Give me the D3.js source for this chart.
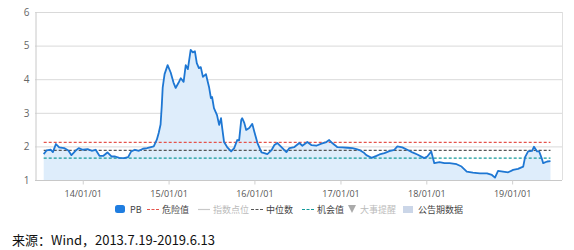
<!DOCTYPE html>
<html>
<head>
<meta charset="utf-8">
<script src="https://cdn.jsdelivr.net/npm/d3@7"></script>
<style>
body { margin:0; background:#fff; }
svg text { font-family:"Open Sans","Noto Sans CJK SC",sans-serif; }
</style>
</head>
<body>
<div id="chart"></div>
<script>
// PB series
var dates = ["2013-07-19","2013-07-31","2013-08-18","2013-08-27","2013-09-09","2013-09-23","2013-10-14","2013-11-01","2013-11-14","2013-12-01","2013-12-15",
  "2014-01-01","2014-01-22","2014-02-08","2014-02-25","2014-03-13","2014-03-30","2014-04-16","2014-05-03","2014-05-19","2014-06-05","2014-06-26","2014-07-13","2014-07-26","2014-08-11","2014-08-28","2014-09-14","2014-10-01","2014-10-18","2014-10-30","2014-11-12","2014-11-20","2014-11-28","2014-12-03","2014-12-07","2014-12-15","2014-12-28",
  "2015-01-10","2015-01-22","2015-01-31","2015-02-13","2015-02-22","2015-03-06","2015-03-15","2015-03-24","2015-04-05","2015-04-14","2015-04-23","2015-05-01","2015-05-10","2015-05-18","2015-05-27","2015-06-09","2015-06-13","2015-06-22","2015-06-30","2015-07-05","2015-07-13","2015-07-26","2015-08-04","2015-08-12","2015-08-17","2015-08-25","2015-09-07","2015-09-24","2015-10-07","2015-10-20","2015-10-28","2015-11-06","2015-11-10","2015-11-19","2015-11-27","2015-12-10","2015-12-23",
  "2016-01-01","2016-01-14","2016-01-31","2016-02-12","2016-02-25","2016-03-13","2016-03-26","2016-04-08","2016-04-25","2016-05-16","2016-05-29","2016-06-19","2016-07-10","2016-07-23","2016-08-13","2016-08-30","2016-09-20","2016-10-12","2016-11-02","2016-11-14","2016-11-27","2016-12-18",
  "2017-01-09","2017-01-31","2017-02-21","2017-03-10","2017-03-23","2017-04-09","2017-04-21","2017-05-13","2017-06-03","2017-06-16","2017-07-07","2017-07-28","2017-08-18","2017-08-31","2017-09-21","2017-10-12","2017-11-03","2017-11-24","2017-12-23",
  "2018-01-05","2018-01-22","2018-02-04","2018-02-26","2018-03-19","2018-04-10","2018-05-10","2018-05-31","2018-06-22","2018-07-18","2018-08-17","2018-09-16","2018-10-07","2018-10-20","2018-11-02","2018-11-23","2018-12-15",
  "2019-01-05","2019-01-26","2019-02-17","2019-02-25","2019-03-10","2019-03-27","2019-04-04","2019-04-17","2019-04-26","2019-05-08","2019-05-13","2019-05-30","2019-06-13"];
var pb = [1.77,1.88,1.90,1.83,2.07,1.97,1.95,1.88,1.74,1.87,1.95,
  1.90,1.92,1.87,1.90,1.72,1.72,1.82,1.70,1.70,1.66,1.65,1.68,1.85,1.90,1.87,1.93,1.95,1.98,2.00,2.20,2.40,2.65,3.20,3.75,4.15,4.42,
  4.20,3.90,3.74,3.90,4.03,3.92,4.42,4.30,4.87,4.80,4.83,4.48,4.33,4.36,4.07,4.15,4.03,3.77,3.44,3.47,3.14,2.93,2.64,2.84,2.55,2.13,1.98,1.85,1.95,2.19,2.18,2.79,2.84,2.70,2.49,2.55,2.67,
  2.43,2.10,1.82,1.80,1.77,1.88,2.04,2.10,1.98,1.83,1.95,1.98,2.10,2.02,2.13,2.04,2.02,2.08,2.13,2.19,2.10,1.98,
  1.97,1.96,1.95,1.92,1.89,1.82,1.74,1.66,1.72,1.76,1.80,1.86,1.90,2.00,1.97,1.90,1.82,1.76,1.65,
  1.70,1.85,1.50,1.53,1.50,1.50,1.47,1.40,1.25,1.22,1.20,1.20,1.15,1.07,1.27,1.25,1.23,
  1.30,1.33,1.40,1.68,1.85,1.87,1.99,1.85,1.85,1.62,1.50,1.55,1.56];

// reference levels
var dangerValue = 2.12;
var medianValue = 1.88;
var chanceValue = 1.65;

var yTicks = [1, 2, 3, 4, 5, 6];
var xTickDates = ["2014-01-01","2015-01-01","2016-01-01","2017-01-01","2018-01-01","2019-01-01"];
var legendNames = ["PB","危险值","指数点位","中位数","机会值","大事提醒","公告期数据"];
var sourceText = "来源：Wind，2013.7.19-2019.6.13";

var parse = d3.timeParse("%Y-%m-%d");
var data = dates.map(function(d, i){ return {date: parse(d), value: pb[i]}; });

var W = 574, H = 250;
var svg = d3.select("#chart").append("svg")
  .attr("width", W).attr("height", H);

var x = d3.scaleTime()
  .domain([parse("2013-06-12"), parse("2019-08-01")])
  .range([35, 562]);
var y = d3.scaleLinear().domain([1, 6]).range([180, 12]);

// grid
svg.append("g").selectAll("line").data(yTicks).enter().append("line")
  .attr("x1", 35).attr("x2", 562)
  .attr("y1", function(d){ return y(d) + 0.5; })
  .attr("y2", function(d){ return y(d) + 0.5; })
  .attr("stroke", function(d){ return d === 1 ? "#c8c8c8" : "#d9d9d9"; });
svg.append("line").attr("x1", 562.5).attr("x2", 562.5).attr("y1", 12).attr("y2", 180)
  .attr("stroke", "#e0e0e0");

// area + line
var area = d3.area()
  .x(function(d){ return x(d.date); })
  .y0(y(1))
  .y1(function(d){ return y(d.value); });
svg.append("path").datum(data).attr("d", area).attr("fill", "#deedfb");

var refs = [
  {v: dangerValue, c: "#e5534b"},
  {v: medianValue, c: "#555555"},
  {v: chanceValue, c: "#139a9a"}
];
var first = data[0].date, last = data[data.length - 1].date;
svg.append("g").selectAll("line").data(refs).enter().append("line")
  .attr("x1", x(first)).attr("x2", x(last))
  .attr("y1", function(d){ return y(d.v); })
  .attr("y2", function(d){ return y(d.v); })
  .attr("stroke", function(d){ return d.c; })
  .attr("stroke-width", 1.2)
  .attr("stroke-dasharray", "3,2");

var line = d3.line()
  .x(function(d){ return x(d.date); })
  .y(function(d){ return y(d.value); });
svg.append("path").datum(data).attr("d", line)
  .attr("fill", "none").attr("stroke", "#1e77d3").attr("stroke-width", 1.8)
  .attr("stroke-linejoin", "round");

// axes
var yAxis = svg.append("g").attr("transform", "translate(35.5,0)")
  .call(d3.axisLeft(y).tickValues(yTicks).tickSize(0).tickPadding(6).tickFormat(d3.format("d")));
yAxis.select(".domain").attr("stroke", "#c8c8c8");
yAxis.selectAll("text").attr("fill", "#666").style("font-size", "10px");

var xAxis = svg.append("g").attr("transform", "translate(0,180.5)")
  .call(d3.axisBottom(x).tickValues(xTickDates.map(parse)).tickSize(4).tickPadding(6)
    .tickFormat(d3.timeFormat("%y/%m/%d")));
xAxis.select(".domain").remove();
xAxis.selectAll("line").attr("stroke", "#d0d0d0");
xAxis.selectAll("text").attr("fill", "#555").style("font-size", "9px");

// legend
var lg = svg.append("g").style("font-size", "9px");
var ly = 209;
var items = [
  {x: 115, type: "rect", color: "#1f7de0", tc: "#444"},
  {x: 147, type: "dash", color: "#e5534b", tc: "#444"},
  {x: 198, type: "solid", color: "#c8c8c8", tc: "#bbb"},
  {x: 251, type: "dash", color: "#555555", tc: "#444"},
  {x: 302, type: "dash", color: "#139a9a", tc: "#444"},
  {x: 348, type: "tri", color: "#aaaaaa", tc: "#bbb"},
  {x: 403, type: "box", color: "#cbd6e8", tc: "#444"}
];
items.forEach(function(it, i){
  var g = lg.append("g");
  var tx;
  if (it.type === "rect") {
    g.append("rect").attr("x", it.x).attr("y", ly - 4).attr("width", 10).attr("height", 8)
      .attr("rx", 2.5).attr("fill", it.color);
    tx = it.x + 15;
  } else if (it.type === "dash" || it.type === "solid") {
    g.append("line").attr("x1", it.x).attr("x2", it.x + 12).attr("y1", ly + 0.5).attr("y2", ly + 0.5)
      .attr("stroke", it.color).attr("stroke-width", 1.2)
      .attr("stroke-dasharray", it.type === "dash" ? "3,1.5" : null);
    tx = it.x + 15;
  } else if (it.type === "tri") {
    g.append("path").attr("d", "M" + it.x + "," + (ly - 4) + "h8l-4,8z").attr("fill", it.color);
    tx = it.x + 12;
  } else {
    g.append("rect").attr("x", it.x).attr("y", ly - 3).attr("width", 10).attr("height", 7)
      .attr("fill", it.color);
    tx = it.x + 15;
  }
  g.append("text").attr("x", tx).attr("y", ly + 3.5).attr("fill", it.tc)
    .style("font-family", "'Noto Sans CJK SC',sans-serif")
    .text(legendNames[i]);
});

svg.append("text").attr("x", 12).attr("y", 245)
  .style("font-family", "'Noto Sans CJK SC',sans-serif").style("font-size", "13px")
  .attr("fill", "#111").text(sourceText);
</script>
</body>
</html>
